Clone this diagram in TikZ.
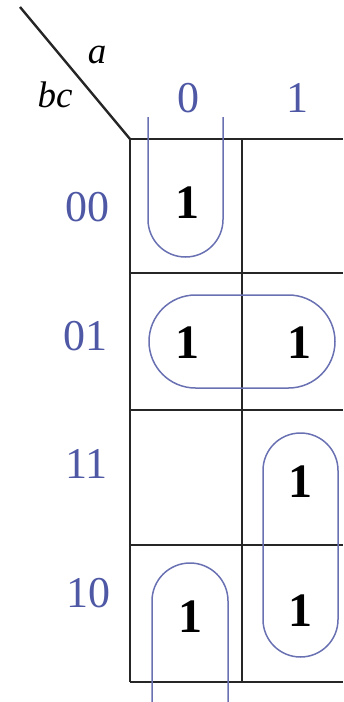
\documentclass[tikz,border=0pt]{standalone}
\usepackage{fontspec}
\setmainfont{Liberation Serif}
\definecolor{kblue}{RGB}{78,88,165}
\tikzset{
  kline/.style={line width=2.4pt, black!85},
  kloop/.style={line width=1.5pt, kblue!85},
  one/.style={font=\fontsize{48}{48}\selectfont\bfseries},
  rowlbl/.style={kblue, anchor=east, font=\fontsize{44}{44}\selectfont},
  collbl/.style={kblue, font=\fontsize{44}{44}\selectfont},
  varlbl/.style={font=\fontsize{37}{37}\selectfont\itshape}
}
\begin{document}
\begin{tikzpicture}[x=1pt, y=-1pt]
    \useasboundingbox (0,0) rectangle (343,702);

    % 表格
    \draw[kline] (20,7) -- (130,139);
    \draw[kline] (130,139) -- (343,139);
    \foreach \y in {273,410,545,682}
        \draw[kline] (130,\y) -- (343,\y);
    \draw[kline] (130,139) -- (130,682);
    \draw[kline] (242,139) -- (242,682);

    % 变量
    \node[varlbl] (va) at (97,55) {a};
    \node[varlbl] (vbc) at (55,95) {bc};
    \node[collbl] (c0) at (188,98) {0};
    \node[collbl] (c1) at (297,98) {1};
    \node[rowlbl] (r00) at (113,207) {00};
    \node[rowlbl] (r01) at (111,336) {01};
    \node[rowlbl] (r11) at (111,464) {11};
    \node[rowlbl] (r10) at (114,593) {10};

    % 最小项
    \node[one] (m0) at (187,203) {1};
    \node[one] (m1) at (187,343) {1};
    \node[one] (m5) at (299,343) {1};
    \node[one] (m7) at (300,482) {1};
    \node[one] (m2) at (190,617) {1};
    \node[one] (m6) at (300,611) {1};

    % 卡诺圈
    \draw[kloop, rounded corners=37.5pt] (148,117) -- (148,257) -- (223,257) -- (223,117);
    \draw[kloop, rounded corners=46.5pt] (149,295) rectangle (335,388);
    \draw[kloop, rounded corners=37.5pt] (263,433) rectangle (338,657);
    \draw[kloop, rounded corners=38pt] (152,710) -- (152,563) -- (228,563) -- (228,710);
\end{tikzpicture}
\end{document}
